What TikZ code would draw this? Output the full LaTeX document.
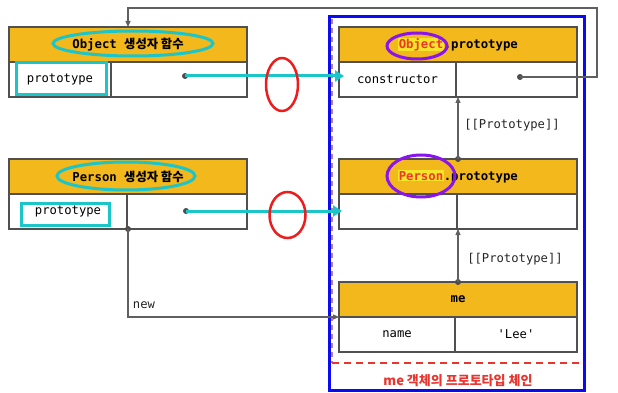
\documentclass[tikz,border=0pt]{standalone}
\usepackage{fontspec}
\setmonofont{DejaVu Sans Mono}
\newfontfamily\krfont{Noto Sans CJK KR}
\usetikzlibrary{arrows.meta,shapes.geometric}
\definecolor{hdrc}{HTML}{F2B81C}
\definecolor{bordc}{HTML}{505050}
\definecolor{linec}{HTML}{606060}
\definecolor{cyanc}{HTML}{1CC5C9}
\definecolor{purpc}{HTML}{8A14F0}
\definecolor{redc}{HTML}{EE1C1C}
\definecolor{txtred}{HTML}{E8352E}
\definecolor{hly}{HTML}{F2E52A}
\definecolor{hlr}{HTML}{F03828}
\definecolor{bluec}{HTML}{0A0AF5}
\definecolor{dashv}{HTML}{C08080}
\newcommand\hlword[1]{{\setlength{\fboxsep}{0.6pt}\colorbox{hly}{\textcolor{hlr}{#1}}}}
\newcommand\kr[1]{{\krfont\bfseries #1}}
\tikzset{
  hdr/.style={draw=bordc, line width=1.2pt, fill=hdrc, minimum height=35pt, minimum width=238pt,
    inner sep=0pt, outer sep=0pt, anchor=north west, font=\ttfamily\bfseries\fontsize{12.3}{14}\selectfont},
  cellbox/.style={draw=bordc, line width=1.2pt, fill=white, minimum height=35pt,
    inner sep=0pt, outer sep=0pt, anchor=north west, font=\ttfamily\fontsize{12.2}{14}\selectfont},
  dotn/.style={circle, fill=linec!80!black, inner sep=0pt, minimum size=6pt},
  grayarr/.style={draw=linec, line width=1.1pt, -{Triangle[length=6pt,width=5pt]}},
  cyanarr/.style={draw=cyanc, line width=3pt, -{Triangle[length=9pt,width=11pt]}},
  lbl/.style={font=\ttfamily\fontsize{12.2}{14}\selectfont, text=black!85, inner sep=0pt},
  cyanring/.style={draw=cyanc, line width=3pt, ellipse, inner sep=0pt},
  redring/.style={draw=redc, line width=2.5pt, ellipse, inner sep=0pt},
  purpring/.style={draw=purpc, line width=3pt, ellipse, inner sep=0pt},
  cyanrect/.style={draw=cyanc, line width=3pt, rectangle, inner sep=0pt},
}
\begin{document}
\begin{tikzpicture}[x=1pt,y=-1pt]
\useasboundingbox (0,0) rectangle (618,393);
% chain frame
\draw[bluec, line width=3pt] (329,17) rectangle (584,390);
\draw[dashv, line width=1.2pt, dash pattern=on 5pt off 4pt] (332,19) -- (332,363);
\draw[txtred, line width=1.5pt, dash pattern=on 7pt off 5pt] (332,363) -- (584,363);
\node[font=\krfont\bfseries\fontsize{13}{15}\selectfont, text=txtred] (title) at (458,381) {me 객체의 프로토타입 체인};

% Object constructor
\node[hdr] (oc) at (9,27) {Object \kr{생성자 함수}};
\node[cellbox, minimum width=102pt] (ocL) at (oc.south west) {prototype};
\node[cellbox, minimum width=136pt] (ocR) at (ocL.north east) {};
% Person constructor
\node[hdr] (pc) at (9,159) {Person \kr{생성자 함수}};
\node[cellbox, minimum width=118pt] (pcL) at (pc.south west) {prototype};
\node[cellbox, minimum width=120pt] (pcR) at (pcL.north east) {};
% Object.prototype
\node[hdr] (op) at (339,27) {\hlword{Object}.prototype};
\node[cellbox, minimum width=117pt] (opL) at (op.south west) {constructor};
\node[cellbox, minimum width=121pt] (opR) at (opL.north east) {};
% Person.prototype
\node[hdr] (pp) at (339,159) {\hlword{Person}.prototype};
\node[cellbox, minimum width=118pt] (ppL) at (pp.south west) {};
\node[cellbox, minimum width=120pt] (ppR) at (ppL.north east) {};
% me
\node[hdr] (me) at (339,282) {me};
\node[cellbox, minimum width=116pt] (meL) at (me.south west) {name};
\node[cellbox, minimum width=122pt] (meR) at (meL.north east) {'Lee'};

% dots
\node[dotn] (d1) at (185,76) {};
\node[dotn] (d2) at (186,211) {};
\node[dotn] (d3) at (520,77) {};
\node[dotn] (d4) at (458,159) {};
\node[dotn] (d5) at (128,229) {};
\node[dotn] (d6) at (458,282) {};
\coordinate (tr) at (597,8);

% gray connectors
\draw[grayarr] (d3.center) -| (tr) -| (oc.north);
\draw[grayarr] (d4.center) -- (d4 |- opR.south);
\draw[grayarr] (d6.center) -- (d6 |- ppR.south);
\draw[grayarr] (d5.center) |- (meL.north west);
\node[lbl] (l1) at (512,125) {[[Prototype]]};
\node[lbl] (l2) at (515,259) {[[Prototype]]};
\node[lbl] (l3) at (144,305) {new};

% cyan arrows
\draw[cyanarr, shorten >=-5pt] (d1.center) -- (d1 -| opL.west);
\draw[cyanarr, shorten >=-3pt] (d2.center) -- (d2 -| ppL.west);

% annotations
\node[cyanring, minimum width=160pt, minimum height=25pt] (e1) at (133,43.5) {};
\node[cyanring, minimum width=138pt, minimum height=28pt] (e2) at (126,176) {};
\node[cyanrect, minimum width=90pt, minimum height=32pt] (r1) at (61.5,78.5) {};
\node[cyanrect, minimum width=88pt, minimum height=22pt] (r2) at (65.5,214) {};
\node[redring, minimum width=32pt, minimum height=53pt] (e3) at (282,84.5) {};
\node[redring, minimum width=36pt, minimum height=46pt] (e4) at (287.5,215) {};
\node[purpring, minimum width=60pt, minimum height=26pt] (e5) at (417,46) {};
\node[purpring, minimum width=68pt, minimum height=42pt] (e6) at (421,176) {};
\end{tikzpicture}
\end{document}
